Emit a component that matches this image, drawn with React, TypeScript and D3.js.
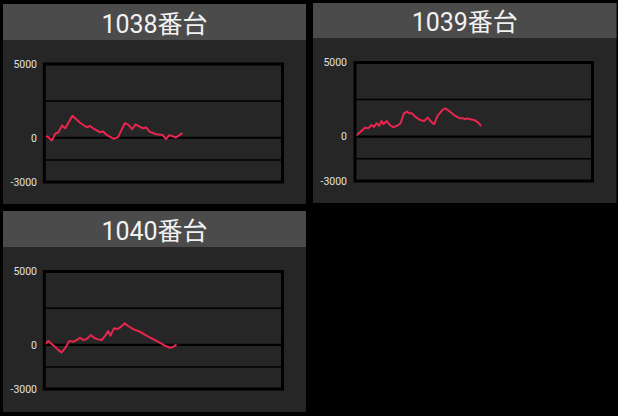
import React from "react";
import * as d3 from "d3";

// ---- data ----
const titles = ["1038番台", "1039番台", "1040番台"];
const yTickLabels = [5000, 0, -3000];
const gridValues = [2500, -1500];
const xDomain = [0, 100];
const yDomain = [-3000, 5000];

const games1038 = [0, 1.4, 3.2, 4.6, 6, 7.4, 8.8, 11.8, 15, 17.8, 19.2, 20.5, 23.3, 24.7, 26.1, 29.2, 31, 32.4, 33.8, 35.1, 36.9, 38.3, 40, 41.4, 42.8, 44.2, 46.9, 49.7, 51.1, 52.5, 55.3, 58];
const diff1038 = [0, 90, -180, 270, 380, 820, 640, 1490, 1020, 710, 800, 640, 380, 420, 200, -70, 40, 530, 980, 910, 580, 910, 760, 640, 690, 420, 240, 180, -90, 180, 20, 310];

const games1039 = [0, 2.1, 4.2, 5.6, 7.0, 8.0, 9.1, 10.2, 11.2, 12.0, 13.3, 14.7, 16.1, 17.8, 19.2, 20.6, 21.8, 22.9, 23.9, 25.3, 27.4, 29.1, 30.6, 32.3, 33.3, 34.8, 36.9, 38.0, 40, 42.1, 44.2, 45.6, 46.3, 47.3, 48.4, 50.1, 51.9, 53.1];
const diff1039 = [0, 290, 600, 560, 780, 650, 900, 720, 1050, 830, 1050, 780, 630, 740, 900, 1570, 1690, 1570, 1570, 1350, 1120, 1050, 1280, 960, 830, 1410, 1800, 1910, 1680, 1410, 1230, 1230, 1170, 1230, 1170, 1120, 940, 700];

const games1040 = [0, 1.7, 3.1, 4.5, 5.9, 7.3, 8.7, 10.5, 12.2, 13.6, 15.0, 16.4, 17.8, 19.5, 21.3, 22.6, 24.1, 25.5, 26.8, 27.8, 29.2, 30.4, 31.7, 33.8, 35.2, 37.3, 40.1, 42.9, 45.7, 48.5, 50.6, 52.7, 54.1, 55.5];
const diff1040 = [0, 270, 60, -120, -350, -510, -230, 270, 220, 330, 490, 330, 400, 670, 450, 380, 330, 610, 950, 630, 1130, 1080, 1170, 1470, 1290, 1080, 900, 630, 400, 150, -50, -190, -140, 40];

// ---- layout ----
const layouts = [
  { x: 3, y: 4, w: 303, h: 200, header: 36, baseline: 32.5, px0: 44.3, px1: 282.5, py0: 64, py1: 182, labelX: 37 },
  { x: 313, y: 3, w: 303.5, h: 200, header: 35, baseline: 31, px0: 355, px1: 592.5, py0: 62.5, py1: 181, labelX: 347 },
  { x: 3, y: 211, w: 303, h: 201, header: 36, baseline: 240, px0: 44.3, px1: 282.5, py0: 271.5, py1: 389, labelX: 37 },
];

const seriesX = [games1038, games1039, games1040];
const seriesY = [diff1038, diff1039, diff1040];

const LINE_COLOR = "#e8264f";
const HEADER_COLOR = "#4b4b4b";
const BODY_COLOR = "#262626";
const FONT = "Roboto, 'Noto Sans CJK JP', sans-serif";

function Panel({ idx }: { idx: number }) {
  const L = layouts[idx];
  const x = d3.scaleLinear().domain(xDomain).range([L.px0, L.px1]);
  const y = d3.scaleLinear().domain(yDomain).range([L.py1, L.py0]);
  const xs = seriesX[idx];
  const ys = seriesY[idx];
  const pts: [number, number][] = xs.map((g, i) => [g, ys[i]]);
  const line = d3
    .line<[number, number]>()
    .x((d) => x(d[0]))
    .y((d) => y(d[1]));
  return (
    <g>
      <rect x={L.x} y={L.y} width={L.w} height={L.h} fill={BODY_COLOR} />
      <rect x={L.x} y={L.y} width={L.w} height={L.header} fill={HEADER_COLOR} />
      <text
        x={L.x + L.w / 2}
        y={L.baseline}
        textAnchor="middle"
        fontFamily={FONT}
        fontSize={25}
        fill="#f2f2f2"
      >
        {titles[idx]}
      </text>
      {gridValues.map((v) => (
        <line key={v} x1={L.px0} x2={L.px1} y1={y(v)} y2={y(v)} stroke="#000" strokeWidth={1.5} />
      ))}
      <line x1={L.px0} x2={L.px1} y1={y(0)} y2={y(0)} stroke="#000" strokeWidth={2.2} />
      <path d={line(pts) || ""} fill="none" stroke={LINE_COLOR} strokeWidth={2} strokeLinejoin="round" />
      <rect
        x={L.px0}
        y={L.py0}
        width={L.px1 - L.px0}
        height={L.py1 - L.py0}
        fill="none"
        stroke="#000"
        strokeWidth={3}
      />
      {yTickLabels.map((v) => (
        <text
          key={v}
          x={L.labelX}
          y={y(v)}
          dy="0.36em"
          textAnchor="end"
          fontFamily={FONT}
          fontSize={10.5}
          fill="#e0e0e0"
        >
          {v}
        </text>
      ))}
    </g>
  );
}

export default function App() {
  return (
    <div style={{ position: "absolute", left: 0, top: 0 }}>
      <svg width={618} height={416} style={{ display: "block" }}>
        <rect x={0} y={0} width={618} height={416} fill="#000" />
        {layouts.map((_, i) => (
          <Panel key={i} idx={i} />
        ))}
      </svg>
    </div>
  );
}
